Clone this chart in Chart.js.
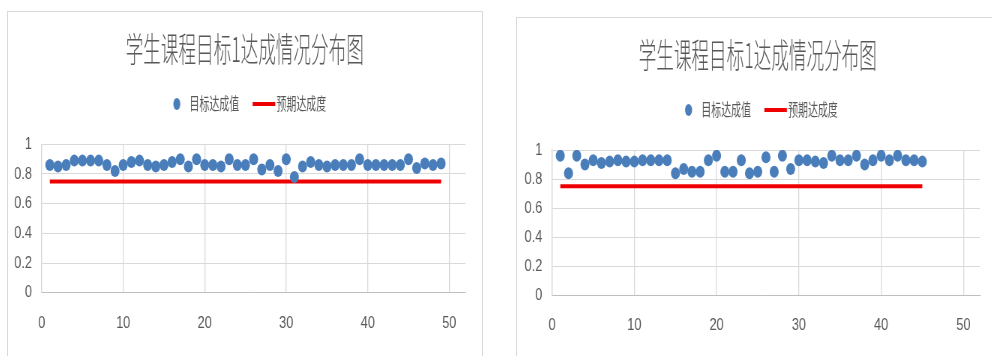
<!DOCTYPE html>
<html>
<head>
<meta charset="utf-8">
<script src="https://cdn.jsdelivr.net/npm/chart.js@4.4.1/dist/chart.umd.min.js"></script>
<style>
  html, body { margin: 0; padding: 0; background: #ffffff; width: 992px; height: 356px; overflow: hidden; }
  .panel { position: absolute; box-sizing: border-box; border: 1px solid #d9d9d9; background: #ffffff; overflow: hidden; }
  .squash { position: absolute; left: 0; top: 0; transform-origin: 0 0; transform: scaleX(0.75); }
  canvas { display: block; }
</style>
</head>
<body>
<div class="panel" style="left:7px; top:11px; width:476px; height:360px;">
  <div class="squash" id="wrapA"><canvas id="chartA"></canvas></div>
</div>
<div class="panel" style="left:516px; top:17px; width:500px; height:360px;">
  <div class="squash" id="wrapB"><canvas id="chartB"></canvas></div>
</div>
<script>
// Chart text
const chartTitle = '学生课程目标1达成情况分布图';
const seriesNames = ['目标达成值', '预期达成度'];

// Course-goal-1 attainment per student, first class (students 1..49)
const classAAttainment = [
  0.86, 0.85, 0.86, 0.89, 0.89, 0.89, 0.89, 0.86, 0.82, 0.86,
  0.88, 0.89, 0.86, 0.85, 0.86, 0.88, 0.90, 0.85, 0.90, 0.86,
  0.86, 0.85, 0.90, 0.86, 0.86, 0.90, 0.83, 0.86, 0.82, 0.90,
  0.78, 0.85, 0.88, 0.86, 0.85, 0.86, 0.86, 0.86, 0.90, 0.86,
  0.86, 0.86, 0.86, 0.86, 0.90, 0.84, 0.87, 0.86, 0.87
];

// Course-goal-1 attainment per student, second class (students 1..45)
const classBAttainment = [
  0.96, 0.84, 0.96, 0.90, 0.93, 0.91, 0.92, 0.93, 0.92, 0.92,
  0.93, 0.93, 0.93, 0.93, 0.84, 0.87, 0.85, 0.85, 0.93, 0.96,
  0.85, 0.85, 0.93, 0.84, 0.85, 0.95, 0.85, 0.96, 0.87, 0.93,
  0.93, 0.92, 0.91, 0.96, 0.93, 0.93, 0.96, 0.90, 0.93, 0.96,
  0.93, 0.96, 0.93, 0.93, 0.92
];

// Expected attainment level for each class
const classAExpected = 0.75;
const classBExpected = 0.75;

// Axis ticks
const xTickValues = [0, 10, 20, 30, 40, 50];
const yTickValues = [0, 0.2, 0.4, 0.6, 0.8, 1];
const yTickLabels = ['0', '0.2', '0.4', '0.6', '0.8', '1'];

const DOT_BLUE = '#4a7ebb';
const LINE_RED = '#ee0000';
const TEXT_GREY = '#595959';
const GRID_GREY = '#d9d9d9';
const TICK_FONT = "'Liberation Sans Narrow', 'Liberation Sans', sans-serif";

// Legend swatches, drawn on small transparent canvases
function dotSwatch() {
  const c = document.createElement('canvas');
  c.width = 64; c.height = 14;
  const g = c.getContext('2d');
  g.fillStyle = DOT_BLUE;
  g.beginPath(); g.arc(34.7, 7, 6, 0, Math.PI * 2); g.fill();
  return c;
}
function barSwatch() {
  const c = document.createElement('canvas');
  c.width = 64; c.height = 4;
  const g = c.getContext('2d');
  g.fillStyle = LINE_RED;
  g.fillRect(15.8, 0, 38.6, 4);
  return c;
}
const swatches = [dotSwatch(), barSwatch()];

Chart.defaults.font.family = "'Noto Sans CJK SC', 'Noto Sans', sans-serif";
Chart.defaults.color = TEXT_GREY;

// Draw a layout box narrowed horizontally around its own centre
function narrowBox(box, factor) {
  const baseDraw = box.draw;
  box.draw = function (area) {
    const ctx = box.ctx;
    const cx = (box.left + box.right) / 2;
    ctx.save();
    ctx.translate(cx, 0);
    ctx.scale(factor, 1);
    ctx.translate(-cx, 0);
    baseDraw.call(box, area);
    ctx.restore();
  };
}

function buildChart(canvasId, wrapId, values, expected, geo) {
  const canvas = document.getElementById(canvasId);
  const wrap = document.getElementById(wrapId);
  canvas.width = geo.W; canvas.height = geo.H;
  canvas.style.width = geo.W + 'px'; canvas.style.height = geo.H + 'px';
  wrap.style.width = geo.W + 'px'; wrap.style.height = geo.H + 'px';

  const points = values.map((v, i) => ({ x: i + 1, y: v }));
  const expectedLine = values.map((v, i) => ({ x: i + 1, y: expected }));

  const layoutTweaks = {
    id: 'layoutTweaks',
    beforeInit(chart) {
      const legend = chart.legend;
      const baseFit = legend.fit;
      legend.fit = function () {
        baseFit.call(legend);
        legend.height += geo.legendGap;
      };
      narrowBox(legend, 0.78);
      narrowBox(chart.titleBlock, 0.69);
    },
    afterLayout(chart) {
      chart.legend.left += geo.legendShift;
      chart.legend.right += geo.legendShift;
      chart.titleBlock.left += geo.titleShift;
      chart.titleBlock.right += geo.titleShift;
    }
  };

  return new Chart(canvas, {
    type: 'scatter',
    data: {
      datasets: [
        {
          label: seriesNames[0],
          data: points,
          pointRadius: 6,
          pointHoverRadius: 6,
          pointBackgroundColor: DOT_BLUE,
          pointBorderWidth: 0,
          borderColor: DOT_BLUE,
          showLine: false
        },
        {
          label: seriesNames[1],
          data: expectedLine,
          showLine: true,
          borderColor: LINE_RED,
          backgroundColor: LINE_RED,
          borderWidth: 4,
          pointRadius: 0,
          pointHoverRadius: 0,
          fill: false
        }
      ]
    },
    options: {
      responsive: false,
      animation: false,
      devicePixelRatio: 1,
      layout: { padding: { left: 0, right: geo.padRight, top: 0, bottom: 0 } },
      plugins: {
        tooltip: { enabled: false },
        title: {
          display: true,
          text: chartTitle,
          color: TEXT_GREY,
          font: { size: 34, weight: '300' },
          padding: { top: geo.titleTop, bottom: 3.1 }
        },
        legend: {
          display: true,
          labels: {
            usePointStyle: true,
            pointStyleWidth: 32,
            padding: 23,
            color: TEXT_GREY,
            font: { size: 17 },
            generateLabels(chart) {
              const items = Chart.defaults.plugins.legend.labels.generateLabels(chart);
              items.forEach((item, i) => { item.pointStyle = swatches[i]; });
              return items;
            }
          }
        }
      },
      scales: {
        x: {
          type: 'linear',
          min: 0,
          max: 52,
          afterBuildTicks(scale) { scale.ticks = xTickValues.map(v => ({ value: v })); },
          afterFit(scale) { scale.height = geo.H - geo.plotBottom; },
          ticks: {
            color: TEXT_GREY,
            padding: 20,
            font: { family: TICK_FONT, size: 17 },
            callback: (v) => String(v)
          },
          grid: { color: GRID_GREY, lineWidth: 1.3, drawTicks: false },
          border: { color: '#bfbfbf', width: 1 }
        },
        y: {
          type: 'linear',
          min: 0,
          max: 1,
          afterBuildTicks(scale) { scale.ticks = yTickValues.map(v => ({ value: v })); },
          afterFit(scale) { scale.width = geo.plotLeft; },
          ticks: {
            color: TEXT_GREY,
            padding: 13,
            font: { family: TICK_FONT, size: 17 },
            callback: (v, i) => yTickLabels[i]
          },
          grid: { color: GRID_GREY, lineWidth: 1, drawTicks: false },
          border: { color: GRID_GREY, width: 1.3 }
        }
      }
    },
    plugins: [layoutTweaks]
  });
}

buildChart('chartA', 'wrapA', classAAttainment, classAExpected, {
  W: 632, H: 344, plotLeft: 44.9, plotBottom: 280.7, padRight: 21.9,
  titleTop: 16.6, legendGap: 21.8, legendShift: 12.3, titleShift: 10.6
});
buildChart('chartB', 'wrapB', classBAttainment, classBExpected, {
  W: 642, H: 338, plotLeft: 46.7, plotBottom: 277.3, padRight: 24.8,
  titleTop: 16.6, legendGap: 21.5, legendShift: 12.4, titleShift: 12.4
});
</script>
</body>
</html>
